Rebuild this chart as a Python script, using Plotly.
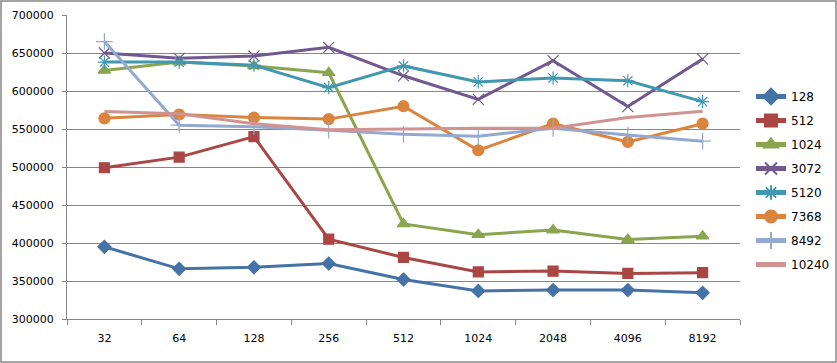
import plotly.graph_objects as go

categories = ["32", "64", "128", "256", "512", "1024", "2048", "4096", "8192"]
s128 = [395000, 366000, 368000, 373000, 352000, 337000, 338000, 338000, 334500]
s512 = [499000, 513000, 540000, 405000, 381000, 362000, 363000, 360000, 361000]
s1024 = [627000, 638000, 633000, 624000, 425000, 411000, 417000, 404500, 409000]
s3072 = [650000, 643000, 646000, 657500, 620000, 589000, 640000, 579500, 642000]
s5120 = [638000, 638000, 634000, 604500, 633000, 612000, 617000, 613500, 586000]
s7368 = [564000, 569000, 565000, 563000, 580000, 522000, 557000, 533000, 557000]
s8492 = [665000, 555000, 553000, 548500, 543000, 540500, 551000, 542000, 534000]
s10240 = [573000, 570000, 557000, 549000, 550000, 551000, 551000, 565000, 573500]
series_names = ["128", "512", "1024", "3072", "5120", "7368", "8492", "10240"]
yticks = [300000, 350000, 400000, 450000, 500000, 550000, 600000, 650000, 700000]

series_values = [s128, s512, s1024, s3072, s5120, s7368, s8492, s10240]
colors = ["#4572A7", "#AA4643", "#89A54E", "#71588F", "#4198AF", "#DB843D", "#93A9CF", "#D19392"]
markers = [
    dict(symbol="diamond", size=10),
    dict(symbol="square", size=10),
    dict(symbol="triangle-up", size=11),
    dict(symbol="x-thin", size=11),
    dict(symbol="asterisk", size=11),
    dict(symbol="circle", size=11),
    dict(symbol="cross-thin", size=12),
    None,
]

fig = go.Figure()
for name, vals, col, mk in zip(series_names, series_values, colors, markers):
    if mk is None:
        fig.add_trace(go.Scatter(x=categories, y=vals, name=name, mode="lines",
                                 line=dict(color=col, width=3), legendgroup=name))
    else:
        m = dict(mk)
        m["color"] = col
        m["line"] = dict(color=col, width=1.2)
        fig.add_trace(go.Scatter(x=categories, y=vals, name=name, mode="lines+markers",
                                 line=dict(color=col, width=3), marker=m, legendgroup=name))

W, H = 837, 363
L, R, T, B = 67, 97, 15, 44
pw, ph = W - L - R, H - T - B

fig.update_layout(
    width=W, height=H,
    margin=dict(l=L, r=R, t=T, b=B, autoexpand=False),
    paper_bgcolor="white", plot_bgcolor="white",
    font=dict(family="DejaVu Sans", size=11, color="#000000"),
    showlegend=True,
    legend=dict(x=1 + 11 / pw, y=1 - 67 / ph, xanchor="left", yanchor="top",
                traceorder="grouped", tracegroupgap=5, itemwidth=30, itemsizing="constant",
                font=dict(family="DejaVu Sans", size=12), bgcolor="rgba(0,0,0,0)"),
    xaxis=dict(type="category", range=[-0.5, 8.5], showgrid=False,
               showline=True, linecolor="#868686", linewidth=1,
               ticks="outside", tickson="boundaries", ticklen=5, tickcolor="#868686",
               ticklabelstandoff=9, tickfont=dict(size=11)),
    yaxis=dict(range=[300000, 700000], tickvals=yticks, ticktext=[str(v) for v in yticks],
               showgrid=True, gridcolor="#868686", gridwidth=1,
               showline=True, linecolor="#868686", linewidth=1,
               ticks="outside", ticklen=4, tickcolor="#868686",
               ticklabelstandoff=6, tickfont=dict(size=11), zeroline=False),
)

# outer chart border
fig.add_shape(type="rect", xref="paper", yref="paper",
              x0=(1 - L) / pw, x1=(836 - L) / pw,
              y0=-(362 - (H - B)) / ph, y1=1 + (T - 1) / ph,
              line=dict(color="#868686", width=1.5), fillcolor="rgba(0,0,0,0)", layer="below")

fig.write_html("out.html", config={"displayModeBar": False},
               post_script="document.body.style.margin='0';document.body.style.padding='0';document.body.style.overflow='hidden';")
